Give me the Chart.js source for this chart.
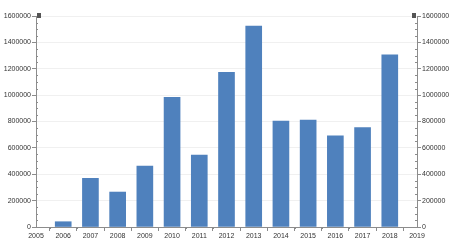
<!DOCTYPE html>
<html>
<head>
<meta charset="utf-8">
<script src="https://cdn.jsdelivr.net/npm/chart.js@4.4.1/dist/chart.umd.min.js"></script>
<style>
  html, body { margin: 0; padding: 0; background: #fff; }
  #wrap { width: 455px; height: 245px; }
</style>
</head>
<body>
<div id="wrap"><canvas id="chart" width="455" height="245"></canvas></div>
<script>
// Datos
const years = [2006, 2007, 2008, 2009, 2010, 2011, 2012, 2013, 2014, 2015, 2016, 2017, 2018];
const values = [40000, 369000, 265000, 462000, 983000, 546000, 1173000, 1524000, 804000, 811000, 692000, 753000, 1306000];
const yTicks = [0, 200000, 400000, 600000, 800000, 1000000, 1200000, 1400000, 1600000];
const xRange = [2005, 2019];

const axisColor = '#8c8c8c';
const labelFont = { family: 'Liberation Sans', size: 7 };

// Marcas menores y topes de los ejes
const axisDecor = {
    id: 'axisDecor',
    afterDraw(chart) {
        const ctx = chart.ctx;
        const { x, y } = chart.scales;
        ctx.save();
        ctx.strokeStyle = axisColor;
        ctx.lineWidth = 1;
        ctx.beginPath();
        for (let v = 50000; v < 1600000; v += 50000) {
            if (v % 200000 === 0) continue;
            const py = Math.round(y.getPixelForValue(v)) + 0.5;
            ctx.moveTo(x.left, py); ctx.lineTo(x.left + 2, py);
            ctx.moveTo(x.right, py); ctx.lineTo(x.right - 2, py);
        }
        for (let v = xRange[0] + 0.5; v < xRange[1]; v += 1) {
            const px = Math.round(x.getPixelForValue(v)) + 0.5;
            ctx.moveTo(px, y.bottom); ctx.lineTo(px, y.bottom + 2);
        }
        ctx.stroke();
        // pequeños bloques al final de cada eje vertical
        ctx.fillStyle = '#555';
        ctx.fillRect(x.left + 1, y.top - 3, 4, 5);
        ctx.fillRect(x.right - 5, y.top - 3, 4, 5);
        ctx.restore();
    }
};

new Chart(document.getElementById('chart'), {
    type: 'bar',
    data: {
        datasets: [{
            data: years.map((yr, i) => ({ x: yr, y: values[i] })),
            backgroundColor: '#4f81bd',
            borderWidth: 0,
            barThickness: 16,
            yAxisID: 'y'
        }]
    },
    options: {
        responsive: false,
        animation: false,
        layout: { padding: { top: 16, left: 0, right: 0, bottom: 0 } },
        plugins: { legend: { display: false }, tooltip: { enabled: false } },
        scales: {
            x: {
                type: 'linear',
                min: xRange[0],
                max: xRange[1],
                offset: false,
                afterBuildTicks: (s) => { s.ticks = []; for (let v = xRange[0]; v <= xRange[1]; v++) s.ticks.push({ value: v }); },
                afterFit: (s) => { s.height = 18; },
                ticks: { color: '#333', font: labelFont, padding: 1, maxRotation: 0, autoSkip: false, callback: (v) => String(v) },
                grid: { drawOnChartArea: false, tickLength: 4, tickColor: axisColor },
                border: { color: axisColor }
            },
            y: {
                position: 'left',
                min: 0,
                max: 1600000,
                afterBuildTicks: (s) => { s.ticks = yTicks.map(v => ({ value: v })); },
                afterFit: (s) => { s.width = 36; },
                ticks: { color: '#333', font: labelFont, padding: 1, callback: (v) => String(v) },
                grid: { color: '#f0f0f0', tickLength: 4, tickColor: axisColor },
                border: { color: axisColor }
            },
            y2: {
                position: 'right',
                min: 0,
                max: 1600000,
                afterBuildTicks: (s) => { s.ticks = yTicks.map(v => ({ value: v })); },
                afterFit: (s) => { s.width = 38; },
                ticks: { color: '#333', font: labelFont, padding: 1, callback: (v) => String(v) },
                grid: { drawOnChartArea: false, tickLength: 4, tickColor: axisColor },
                border: { color: axisColor }
            }
        }
    },
    plugins: [axisDecor]
});
</script>
</body>
</html>
